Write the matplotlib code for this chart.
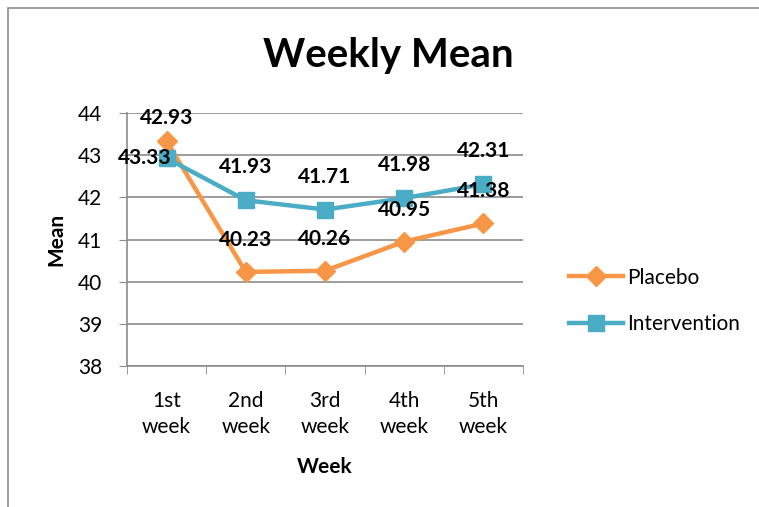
import matplotlib
matplotlib.use("Agg")
import matplotlib.pyplot as plt
from matplotlib.patches import Rectangle

plt.rcParams['font.family'] = ['Lato', 'DejaVu Sans']

weeks = ["1st\nweek", "2nd\nweek", "3rd\nweek", "4th\nweek", "5th\nweek"]
placebo = [43.33, 40.23, 40.26, 40.95, 41.38]
intervention = [42.93, 41.93, 41.71, 41.98, 42.31]
placebo_labels = ["42.93", "40.23", "40.26", "40.95", "41.38"]
intervention_labels = ["43.33", "41.93", "41.71", "41.98", "42.31"]

orange = "#F79646"
blue = "#4BACC6"

fig = plt.figure(figsize=(7.59, 5.07), dpi=100)
fig.patches.append(Rectangle((8/759, -0.1), 1.2, 1 - 8/507 + 0.1, transform=fig.transFigure,
                             fill=False, edgecolor="#8c8c8c", linewidth=1.2))
ax = fig.add_axes([127/759, 1 - 366/507, (523 - 127)/759, (366 - 113)/507])

x = list(range(len(weeks)))
ax.plot(x, placebo, color=orange, lw=3.2, marker="D", ms=10, label="Placebo", zorder=3)
ax.plot(x, intervention, color=blue, lw=3.2, marker="s", ms=12, label="Intervention", zorder=3)

for i, (v, t) in enumerate(zip(placebo, placebo_labels)):
    dy = 23 if i == 0 else 32
    ax.annotate(t, (i, v), xytext=(0, dy), textcoords="offset pixels",
                ha="center", va="center", fontsize=15, fontweight="bold", zorder=5)
for i, (v, t) in enumerate(zip(intervention, intervention_labels)):
    if i == 0:
        ax.annotate(t, (i, v), xytext=(-22, 0), textcoords="offset pixels",
                    ha="center", va="center", fontsize=15, fontweight="bold", zorder=5)
    else:
        ax.annotate(t, (i, v), xytext=(0, 33), textcoords="offset pixels",
                    ha="center", va="center", fontsize=15, fontweight="bold", zorder=5)

ax.set_xlim(-0.5, len(weeks) - 0.5)
ax.set_ylim(38, 44)
ax.set_yticks(range(38, 45))
ax.set_xticks(x)
ax.set_xticklabels(weeks, fontsize=15, linespacing=1.4)
ax.set_xticks([i - 0.5 for i in range(len(weeks) + 1)], minor=True)
ax.tick_params(axis="x", which="major", length=0, pad=18)
ax.tick_params(axis="x", which="minor", length=6, color="#8c8c8c", direction="out")
ax.tick_params(axis="y", length=6, color="#8c8c8c", labelsize=15, pad=12)
ax.grid(axis="y", color="#8c8c8c", lw=1.2)
ax.set_axisbelow(True)
for s in ["top", "right"]:
    ax.spines[s].set_visible(False)
for s in ["left", "bottom"]:
    ax.spines[s].set_color("#8c8c8c")
    ax.spines[s].set_linewidth(1.2)

ax.set_xlabel("Week", fontsize=15, fontweight="bold", labelpad=14)
ax.set_ylabel("Mean", fontsize=15, fontweight="bold", labelpad=8)
fig.text(388/759, 1 - 56/507, "Weekly Mean", fontsize=29, fontweight="bold", ha="center", va="center")

fig.legend(loc="upper left", bbox_to_anchor=(550/759, 1 - 249/507), frameon=False,
           fontsize=15, handlelength=2.6, labelspacing=1.25, handletextpad=0.2)

fig.savefig("out.png", dpi=100)
